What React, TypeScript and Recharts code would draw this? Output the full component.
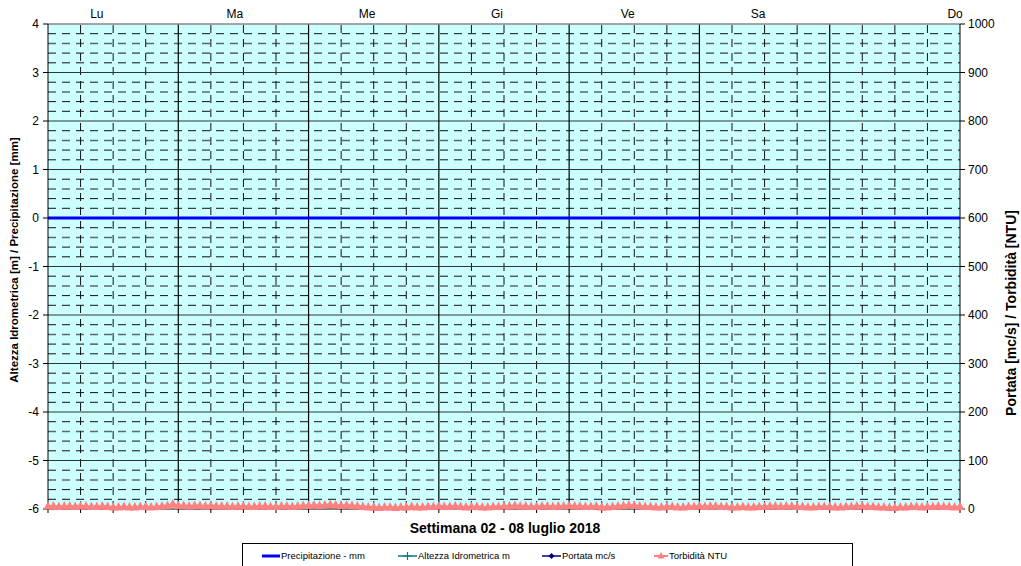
import React from "react";
import { ComposedChart, Line, XAxis, YAxis, CartesianGrid, ReferenceLine } from "recharts";

// giorni della settimana 02 - 08 luglio 2018
const giorni = ["Lu", "Ma", "Me", "Gi", "Ve", "Sa", "Do"];
// ora (dall'inizio della settimana) in cui cade l'etichetta di ogni giorno
const giorniOra = [9, 34.4, 58.8, 82.7, 106.8, 130.8, 167.1];

// torbidità oraria (NTU), un array per giorno
const torbLu = [4, 4, 3, 4, 4, 3, 4, 4, 3, 3, 4, 3, 2, 2, 3, 2, 2, 3, 3, 2, 3, 4, 5, 8];
const torbMa = [5, 5, 4, 5, 5, 4, 5, 4, 4, 4, 3, 4, 4, 3, 3, 4, 4, 3, 3, 4, 4, 3, 4, 5];
const torbMe = [5, 6, 5, 6, 7, 6, 5, 6, 5, 4, 3, 2, 2, 1, 2, 2, 1, 2, 2, 3, 2, 2, 3, 3];
const torbGi = [4, 3, 3, 4, 3, 2, 3, 3, 2, 2, 3, 3, 4, 4, 5, 4, 4, 3, 3, 4, 4, 3, 4, 4];
const torbVe = [5, 4, 4, 3, 3, 4, 2, 2, 3, 4, 5, 6, 5, 4, 3, 3, 2, 2, 3, 3, 2, 2, 3, 3];
const torbSa = [4, 3, 4, 4, 3, 3, 2, 2, 3, 2, 2, 3, 3, 4, 4, 3, 4, 4, 3, 3, 2, 2, 3, 3];
const torbDo = [3, 2, 2, 3, 3, 4, 4, 3, 3, 2, 2, 1, 1, 2, 2, 3, 3, 2, 3, 3, 4, 3, 3, 2, 3];

// precipitazione (mm) letta a mezzanotte di ogni giorno
const precipitazione = [0, 0, 0, 0, 0, 0, 0, 0];

const altezzaTicks = [-6, -5, -4, -3, -2, -1, 0, 1, 2, 3, 4];
const portataTicks = [0, 100, 200, 300, 400, 500, 600, 700, 800, 900, 1000];

const torbidita = [...torbLu, ...torbMa, ...torbMe, ...torbGi, ...torbVe, ...torbSa, ...torbDo];

const data = torbidita.map((t, h) => ({
  ora: h,
  prec: h % 24 === 0 ? precipitazione[h / 24] : null,
  altezza: null,
  portata: null,
  torb: t,
}));

const W = 1021;
const H = 566;
const font = "'Liberation Sans', Arial, sans-serif";

const orePrincipali = [0, 24, 48, 72, 96, 120, 144, 168];
const oreSecondarie: number[] = [];
for (let h = 6; h < 168; h += 6) if (h % 24 !== 0) oreSecondarie.push(h);
const oreTick: number[] = [];
for (let h = 0; h <= 168; h += 6) oreTick.push(h);

const minori: number[] = [];
for (let i = -30; i < 20; i++) if (i % 5 !== 0) minori.push(i / 5);
const isGrigia = (v: number) => Math.abs((((v % 1) + 1) % 1) - 0.6) < 0.01;

const axisTick = { fontSize: 12, fill: "#000", fontFamily: font };

const Triangolo = (props: any) => {
  const { cx, cy } = props;
  if (cx == null || cy == null) return <g />;
  return (
    <polygon
      points={`${cx},${cy - 6} ${cx - 4.5},${cy + 2.5} ${cx + 4.5},${cy + 2.5}`}
      fill="#FF8080"
    />
  );
};

const Testi = () => (
  <svg width={W} height={H} style={{ position: "absolute", left: 0, top: 0, pointerEvents: "none" }}>
    <text x={15} y={260} transform="rotate(-90 15 260)" textAnchor="middle" dominantBaseline="middle"
      fontFamily={font} fontSize={11.5} fontWeight="bold">
      Altezza Idrometrica [m] / Precipitazione [mm]
    </text>
    <text x={1012} y={313} transform="rotate(-90 1012 313)" textAnchor="middle" dominantBaseline="middle"
      fontFamily={font} fontSize={14} fontWeight="bold">
      Portata [mc/s] / Torbidità [NTU]
    </text>
    <text x={505} y={533} textAnchor="middle" fontFamily={font} fontSize={14} fontWeight="bold">
      Settimana 02 - 08 luglio 2018
    </text>
    <rect x={242.5} y={543.5} width={610} height={30} fill="#fff" stroke="#000" />
    <g fontFamily={font} fontSize={9.5} fill="#000">
      <line x1={262} x2={280} y1={556} y2={556} stroke="#0000FF" strokeWidth={3} />
      <text x={281} y={559}>Precipitazione - mm</text>
      <line x1={398} x2={417} y1={556} y2={556} stroke="#008080" strokeWidth={1.5} />
      <path d="M407.5 552 V560 M403.5 556 H411.5" stroke="#008080" strokeWidth={1.2} />
      <text x={418} y={559}>Altezza Idrometrica m</text>
      <line x1={542} x2={561} y1={556} y2={556} stroke="#000080" strokeWidth={1.5} />
      <polygon points="551.5,553 554.5,556 551.5,559 548.5,556" fill="#000080" />
      <text x={562} y={559}>Portata mc/s</text>
      <line x1={654} x2={668} y1={556} y2={556} stroke="#FF8080" strokeWidth={2} />
      <polygon points="661,552 657.5,558.5 664.5,558.5" fill="#FF8080" />
      <text x={669} y={559}>Torbidità NTU</text>
    </g>
  </svg>
);

export default function App() {
  return (
    <div style={{ position: "absolute", left: 0, top: 0, width: W, height: H, background: "#fff", overflow: "hidden" }}>
      <ComposedChart width={W} height={H} data={data} margin={{ top: 0, right: 0, bottom: 0, left: 0 }}>
        <CartesianGrid xAxisId="h" yAxisId="sx" fill="#CCFFFF" stroke="none" horizontal={false} vertical={false} />
        <XAxis xAxisId="h" dataKey="ora" type="number" domain={[0, 168]} ticks={oreTick} orientation="bottom"
          height={57} tickSize={4} tickFormatter={() => ""} axisLine={{ stroke: "#000" }} tickLine={{ stroke: "#000" }} />
        <XAxis xAxisId="top" dataKey="ora" type="number" domain={[0, 168]} ticks={giorniOra} orientation="top"
          height={24} tickSize={0} tickMargin={6} axisLine={{ stroke: "#888" }} tickLine={false}
          tickFormatter={(v: number) => giorni[giorniOra.indexOf(v)] ?? ""} tick={axisTick} interval={0} />
        <YAxis yAxisId="sx" orientation="left" domain={[-6, 4]} ticks={altezzaTicks} width={48} tickSize={5}
          tickMargin={4} axisLine={{ stroke: "#000" }} tickLine={{ stroke: "#000" }} tick={axisTick} interval={0} />
        <YAxis yAxisId="dx" orientation="right" domain={[0, 1000]} ticks={portataTicks} width={61} tickSize={5}
          tickMargin={3} axisLine={{ stroke: "#000" }} tickLine={{ stroke: "#000" }} tick={axisTick} interval={0} />

        {minori.map((v) => (
          <ReferenceLine key={`m${v}`} xAxisId="h" yAxisId="sx" y={v}
            stroke={isGrigia(v) ? "#5a6a6a" : "#111"}
            strokeWidth={isGrigia(v) ? 1.5 : 1} strokeDasharray="8 6" />
        ))}
        {oreSecondarie.map((h) => (
          <ReferenceLine key={`v${h}`} xAxisId="h" yAxisId="sx" x={h} stroke="#111" strokeDasharray="8 6" />
        ))}
        {altezzaTicks.slice(1, -1).map((v) => (
          <ReferenceLine key={`M${v}`} xAxisId="h" yAxisId="sx" y={v} stroke="#333" strokeWidth={1.2} />
        ))}
        {orePrincipali.slice(1, -1).map((h) => (
          <ReferenceLine key={`D${h}`} xAxisId="h" yAxisId="sx" x={h} stroke="#000" strokeWidth={1.2} />
        ))}
        <ReferenceLine xAxisId="h" yAxisId="sx" y={4} stroke="#888" />

        <Line xAxisId="h" yAxisId="dx" dataKey="torb" stroke="#FF8080" strokeWidth={4}
          dot={(p: any) => <Triangolo key={`t${p.index}`} {...p} />} isAnimationActive={false} />
        <Line xAxisId="h" yAxisId="sx" dataKey="altezza" stroke="#008080" dot={false} isAnimationActive={false} />
        <Line xAxisId="h" yAxisId="dx" dataKey="portata" stroke="#000080" dot={false} isAnimationActive={false} />
        <Line xAxisId="h" yAxisId="sx" dataKey="prec" stroke="#0000FF" strokeWidth={3} dot={false}
          connectNulls isAnimationActive={false} />
      </ComposedChart>
      <Testi />
    </div>
  );
}
